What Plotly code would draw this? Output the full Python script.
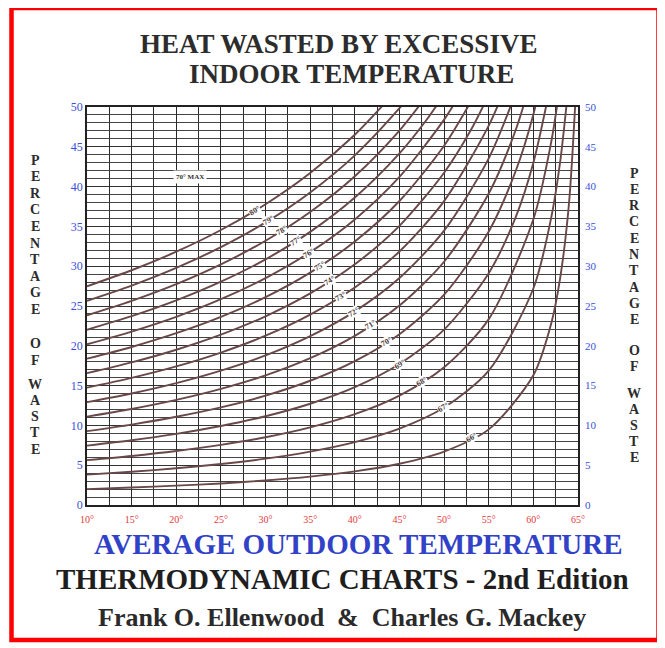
import plotly.graph_objects as go
import numpy as np

# ---------------- data ----------------
curve_labels = ["66°", "67°", "68°", "69°", "70°", "71°", "72°", "73°",
                "74°", "75°", "76°", "77°", "78°", "79°", "80°"]

x_66 = [10, 15, 20, 25, 30, 35, 40, 45, 50, 55, 60, 62, 63, 64, 65]
y_66 = [2.0, 2.19, 2.43, 2.71, 3.08, 3.56, 4.22, 5.18, 6.71, 9.5, 16.3, 22.8, 28.5, 38.0, 57.0]
x_67 = [10, 15, 20, 25, 30, 35, 40, 45, 50, 55, 60, 62, 63, 64]
y_67 = [3.82, 4.18, 4.61, 5.15, 5.82, 6.70, 7.89, 9.59, 12.24, 16.88, 27.2, 36.1, 43.1, 53.4]
x_68 = [10, 15, 20, 25, 30, 35, 40, 45, 50, 55, 60, 62, 63]
y_68 = [5.64, 6.16, 6.78, 7.55, 8.51, 9.75, 11.41, 13.75, 17.31, 23.35, 35.9, 45.6, 52.9]
x_69 = [10, 15, 20, 25, 30, 35, 40, 45, 50, 55, 58, 60, 62]
y_69 = [7.46, 8.13, 8.94, 9.92, 11.15, 12.72, 14.80, 17.71, 22.03, 29.13, 36.1, 43.0, 53.2]
x_70 = [10, 15, 20, 25, 30, 35, 40, 45, 50, 55, 58, 60, 62]
y_70 = [9.28, 10.10, 11.08, 12.26, 13.74, 15.61, 18.07, 21.46, 26.42, 34.35, 41.9, 49.07, 59.2]
x_71 = [10, 15, 20, 25, 30, 35, 40, 45, 50, 55, 58, 60]
y_71 = [11.10, 12.06, 13.20, 14.58, 16.28, 18.44, 21.25, 25.06, 30.56, 39.13, 47.05, 54.4]
x_72 = [10, 15, 20, 25, 30, 35, 40, 45, 50, 55, 58]
y_72 = [12.92, 14.01, 15.31, 16.88, 18.79, 21.21, 24.33, 28.52, 34.47, 43.55, 51.7]
x_73 = [10, 15, 20, 25, 30, 35, 40, 45, 50, 55, 57]
y_73 = [14.74, 15.97, 17.41, 19.15, 21.27, 23.92, 27.32, 31.85, 38.18, 47.66, 52.9]
x_74 = [10, 15, 20, 25, 30, 35, 40, 45, 50, 53, 55]
y_74 = [16.56, 17.91, 19.50, 21.40, 23.71, 26.58, 30.24, 35.07, 41.74, 47.1, 51.53]
x_75 = [10, 15, 20, 25, 30, 35, 40, 45, 50, 53]
y_75 = [18.38, 19.85, 21.58, 23.63, 26.12, 29.20, 33.10, 38.19, 45.14, 50.68]
x_76 = [10, 15, 20, 25, 30, 35, 40, 45, 50, 52]
y_76 = [20.20, 21.79, 23.64, 25.85, 28.51, 31.77, 35.88, 41.22, 48.41, 52.05]
x_77 = [10, 15, 20, 25, 30, 35, 40, 45, 48, 50]
y_77 = [22.02, 23.72, 25.70, 28.05, 30.86, 34.31, 38.62, 44.17, 48.33, 51.58]
x_78 = [10, 15, 20, 25, 30, 35, 40, 45, 48]
y_78 = [23.84, 25.65, 27.75, 30.23, 33.20, 36.81, 41.30, 47.04, 51.33]
x_79 = [10, 15, 20, 25, 30, 35, 40, 45, 46]
y_79 = [25.66, 27.57, 29.79, 32.40, 35.50, 39.27, 43.93, 49.85, 51.23]
x_80 = [10, 15, 20, 25, 30, 35, 40, 44]
y_80 = [27.48, 29.49, 31.82, 34.55, 37.79, 41.71, 46.52, 51.26]

# where each curve's label sits along the outdoor-temperature axis
label_x = [53.1, 49.9, 47.5, 45.0, 43.6, 41.8, 39.8, 38.4, 37.2, 36.0, 34.8,
           33.3, 31.8, 30.3, 28.8]

x_tick_vals = [10, 15, 20, 25, 30, 35, 40, 45, 50, 55, 60, 65]
x_tick_text = ["10°", "15°", "20°", "25°", "30°", "35°", "40°", "45°",
               "50°", "55°", "60°", "65°"]
y_tick_vals = [0, 5, 10, 15, 20, 25, 30, 35, 40, 45, 50]

curves_x = [x_66, x_67, x_68, x_69, x_70, x_71, x_72, x_73, x_74, x_75,
            x_76, x_77, x_78, x_79, x_80]
curves_y = [y_66, y_67, y_68, y_69, y_70, y_71, y_72, y_73, y_74, y_75,
            y_76, y_77, y_78, y_79, y_80]

# ---------------- layout geometry (page pixels) ----------------
OFF = 8                      # default page margin around the plot div
W, H = 665 - OFF, 648 - OFF
PL, PR, PT, PB = 87, 578, 107, 505   # plot area in page pixels


def px(x):
    return (x - PL) / (PR - PL)


def py(y):
    return (PB - y) / (PB - PT)


SERIF = "Liberation Serif, Times New Roman, serif"
CURVE_COLOR = "#684848"

fig = go.Figure()

for lab, xs, ys in zip(curve_labels, curves_x, curves_y):
    fig.add_trace(go.Scatter(
        x=xs, y=ys, mode="lines", name=lab,
        line=dict(color=CURVE_COLOR, width=1.9, shape="spline", smoothing=0.8),
        hoverinfo="skip", showlegend=False))

# invisible trace for the right-hand axis
fig.add_trace(go.Scatter(x=[10, 65], y=[0, 50], yaxis="y2", mode="markers",
                         marker=dict(opacity=0), showlegend=False,
                         hoverinfo="skip"))

annotations = []

# curve labels
for lab, lx, xs, ys in zip(curve_labels, label_x, curves_x, curves_y):
    ly = float(np.interp(lx, xs, ys))
    annotations.append(dict(
        x=lx, y=ly, xref="x", yref="y", text="<b>" + lab + "</b>",
        showarrow=False, textangle=-32, bgcolor="white", borderpad=0,
        font=dict(family=SERIF, size=8, color="#4a3a3a")))

annotations.append(dict(
    x=21.5, y=41.2, xref="x", yref="y", text="<b>70° MAX</b>",
    showarrow=False, bgcolor="white", borderpad=2,
    font=dict(family=SERIF, size=7, color="#333333")))


def text_px(t, x, y, size, color, bold=True):
    annotations.append(dict(
        x=px(x), y=py(y), xref="paper", yref="paper",
        text=("<b>" + t + "</b>") if bold else t, showarrow=False,
        xanchor="center", yanchor="middle",
        font=dict(family=SERIF, size=size, color=color)))


text_px("HEAT WASTED BY EXCESSIVE", 338, 44, 27, "#2c2c2c")
text_px("INDOOR TEMPERATURE", 351, 74, 27, "#2c2c2c")
text_px("AVERAGE OUTDOOR TEMPERATURE", 358, 544, 29, "#3142c8")
text_px("THERMODYNAMIC CHARTS - 2nd Edition", 342, 579, 29, "#1e1e1e")
text_px("Frank O. Ellenwood\u00a0\u00a0&\u00a0\u00a0Charles G. Mackey",
        342, 617, 26, "#2a2a2a")

# stacked side titles, letter by letter
side_letters = ["P", "E", "R", "C", "E", "N", "T", "A", "G", "E",
                "O", "F", "W", "A", "S", "T", "E"]
left_y = [160 + 16.6 * i for i in range(10)] + [343, 360] + \
         [384 + 16.3 * i for i in range(5)]
right_y = [173 + 16.3 * i for i in range(10)] + [350, 366] + \
          [393 + 16.0 * i for i in range(5)]
for ch, ly_, ry_ in zip(side_letters, left_y, right_y):
    text_px(ch, 35, ly_, 14, "#2c2c2c")
    text_px(ch, 634, ry_, 14, "#2c2c2c")

shapes = [dict(type="rect", xref="paper", yref="paper",
               x0=px(11.5), x1=px(658.5), y0=py(640), y1=py(8),
               line=dict(color="#ff0000", width=4.5), layer="above")]

fig.update_layout(
    width=W, height=H, autosize=False,
    margin=dict(l=PL - OFF, r=(W + OFF) - PR, t=PT - OFF, b=(H + OFF) - PB,
                pad=0),
    paper_bgcolor="white", plot_bgcolor="white",
    showlegend=False,
    annotations=annotations, shapes=shapes,
    xaxis=dict(range=[10, 65], tickvals=x_tick_vals, ticktext=x_tick_text,
               tickfont=dict(family=SERIF, size=10, color="#e23a3a"),
               ticklabelstandoff=4,
               showgrid=True, gridcolor="#2a2a2a", gridwidth=1.3,
               minor=dict(dtick=2.5, tick0=10, showgrid=True,
                          gridcolor="#2a2a2a", gridwidth=1.3),
               showline=True, linecolor="#222222", linewidth=1.5,
               mirror=True, zeroline=False, ticks="", ticklen=0,
               fixedrange=True),
    yaxis=dict(range=[0, 50], tickvals=y_tick_vals,
               tickfont=dict(family=SERIF, size=12, color="#3a4fd8"),
               showgrid=True, gridcolor="#333333", gridwidth=1.1,
               minor=dict(dtick=1, tick0=0, showgrid=True,
                          gridcolor="#444444", gridwidth=0.9),
               showline=True, linecolor="#222222", linewidth=1.5,
               mirror=True, zeroline=False, ticks="", fixedrange=True),
    yaxis2=dict(range=[0, 50], tickvals=y_tick_vals, overlaying="y",
                side="right", showgrid=False, zeroline=False,
                tickfont=dict(family=SERIF, size=11, color="#3a4fd8"),
                ticklabelstandoff=6,
                ticks="", fixedrange=True),
)

fig.write_html("out.html")
